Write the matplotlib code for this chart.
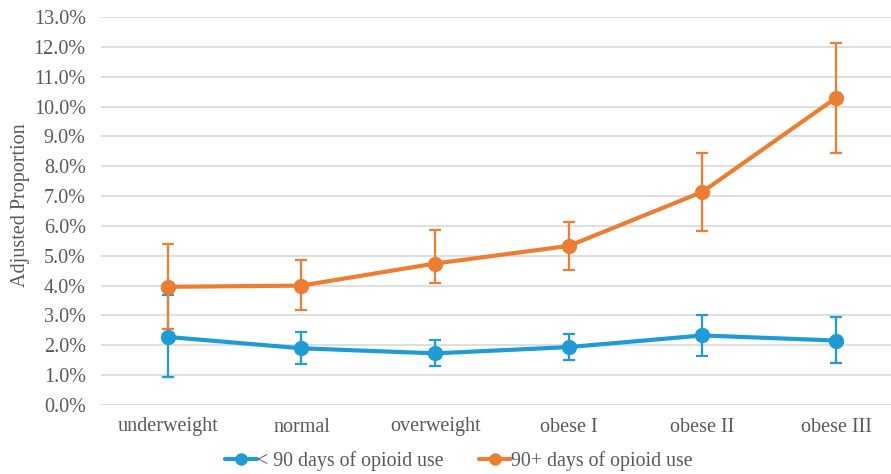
import matplotlib.pyplot as plt
import numpy as np

# categorias de IMC
categorias = ["underweight", "normal", "overweight", "obese I", "obese II", "obese III"]

# < 90 dias (proporcion ajustada, %)
corto = [2.28, 1.90, 1.73, 1.94, 2.33, 2.16]
corto_sup = [3.68, 2.44, 2.18, 2.38, 3.00, 2.94]
corto_inf = [0.93, 1.38, 1.29, 1.51, 1.65, 1.42]

# 90+ dias
largo = [3.96, 4.00, 4.74, 5.33, 7.14, 10.29]
largo_sup = [5.39, 4.85, 5.88, 6.14, 8.45, 12.14]
largo_inf = [2.54, 3.17, 4.10, 4.53, 5.83, 8.44]

azul = "#1f9bd7"
naranja = "#ed7d31"
gris = "#595959"

plt.rcParams["font.family"] = ["Liberation Serif", "DejaVu Serif"]

fig = plt.figure(figsize=(8.91, 4.74), dpi=100)
ax = fig.add_axes([101 / 891, 69 / 474, 790 / 891, 388 / 474])

x = np.arange(len(categorias))

def serie(valores, sup, inf, color, etiqueta):
    v = np.array(valores)
    err = [v - np.array(inf), np.array(sup) - v]
    ax.errorbar(x, v, yerr=err, fmt="none", ecolor=color, elinewidth=1.6,
                capsize=4, capthick=1.6, zorder=3)
    ax.plot(x, v, color=color, lw=3, marker="o", ms=10, label=etiqueta,
            zorder=4, solid_capstyle="round")

serie(corto, corto_sup, corto_inf, azul, "< 90 days of opioid use")
serie(largo, largo_sup, largo_inf, naranja, "90+ days of opioid use")

ax.set_xlim(-0.5, (891 - 168) / 133.6)
ax.set_ylim(0, 13)
ax.set_yticks(np.arange(0, 14, 1))
ax.set_yticklabels([f"{v:.1f}%" for v in np.arange(0, 14, 1)])
ax.set_xticks(x)
ax.set_xticklabels(categorias)
ax.tick_params(axis="both", length=0, labelsize=14.5, colors=gris)
ax.tick_params(axis="y", pad=11)
ax.tick_params(axis="x", pad=9)
ax.grid(axis="y", color="#d9d9d9", lw=1.2)
ax.set_axisbelow(True)
for s in ax.spines.values():
    s.set_visible(False)

fig.text(21 / 891, 1 - 205 / 474, "Adjusted Proportion", rotation=90,
         ha="center", va="center", fontsize=14.5, color=gris)

leg = fig.legend(loc="center", bbox_to_anchor=(459 / 891, 1 - 461 / 474), ncol=2,
                 frameon=False, fontsize=14.3, handlelength=1.6, handletextpad=0.0,
                 columnspacing=1.8, markerscale=0.8)
for t in leg.get_texts():
    t.set_color(gris)

fig.savefig("out.png", dpi=100)
